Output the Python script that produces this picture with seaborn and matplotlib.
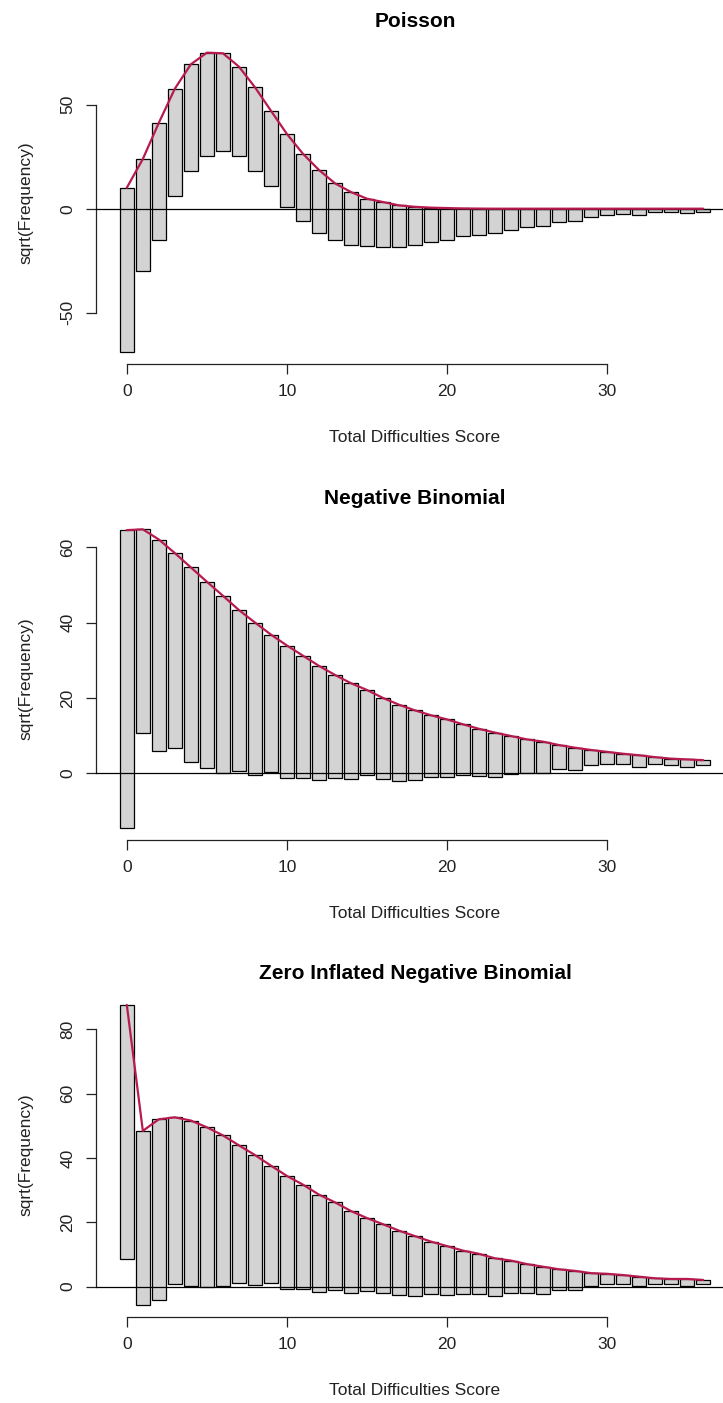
import numpy as np
import pandas as pd
import matplotlib
matplotlib.use("Agg")
import matplotlib.pyplot as plt
import seaborn as sns

# ---- data (square-root scale) ----
scores = list(range(37))
sqrt_observed = [79.0, 54.0, 56.2, 51.7, 51.5, 49.5, 46.9, 42.8, 40.4, 36.4,
                 35.2, 32.4, 30.2, 27.2, 25.5, 22.6, 21.5, 20.1, 18.5, 16.4,
                 15.3, 13.4, 12.6, 11.7, 10.2, 8.9, 8.4, 6.3, 5.8, 4.1,
                 3.2, 2.7, 3.0, 1.7, 1.7, 2.1, 1.4]
sqrt_exp_poisson = [10.1, 23.9, 41.3, 57.7, 69.4, 75.0, 74.7, 68.3, 58.4, 47.1,
                    35.9, 26.4, 18.6, 12.2, 8.0, 4.8, 3.2, 1.6, 0.9, 0.5,
                    0.3, 0.1, 0.05, 0, 0, 0, 0, 0, 0, 0,
                    0, 0, 0, 0, 0, 0, 0]
sqrt_exp_negbin = [64.5, 64.7, 62.0, 58.4, 54.6, 50.8, 47.1, 43.3, 40.0, 36.8,
                   33.9, 31.2, 28.5, 26.1, 23.9, 22.1, 20.0, 18.2, 16.7, 15.4,
                   14.3, 13.0, 11.8, 10.8, 9.9, 9.0, 8.4, 7.5, 6.8, 6.2,
                   5.7, 5.2, 4.8, 4.3, 3.9, 3.7, 3.5]
sqrt_exp_zinb = [87.5, 48.4, 52.0, 52.6, 51.6, 49.5, 47.0, 43.9, 40.9, 37.6,
                 34.4, 31.7, 28.6, 26.2, 23.5, 21.3, 19.4, 17.4, 15.7, 14.0,
                 12.6, 11.2, 10.2, 8.8, 8.1, 7.0, 6.2, 5.4, 4.9, 4.2,
                 4.0, 3.6, 3.1, 2.6, 2.4, 2.4, 2.1]

titles = ["Poisson", "Negative Binomial", "Zero Inflated Negative Binomial"]
expected = [sqrt_exp_poisson, sqrt_exp_negbin, sqrt_exp_zinb]
yticks = [[-50, 0, 50], [0, 20, 40, 60], [0, 20, 40, 60, 80]]
xticks = [0, 10, 20, 30]

sns.set_style("ticks")
plt.rcParams["font.family"] = ["Liberation Sans", "DejaVu Sans"]

W, H = 723, 1403
fig = plt.figure(figsize=(W / 100, H / 100), dpi=100)

# plot regions in pixels (top, bottom)
regions = [(40.7, 364.0), (517.4, 840.0), (993.0, 1316.7)]
left_px, right_px = 96.0, 734.0

bar_w = 0.9
line_col = "#B61A51"
axis_col = "#222222"

for i in range(3):
    top_px, bot_px = regions[i]
    h = bot_px - top_px
    ax = fig.add_axes([left_px / W, 1 - bot_px / H,
                       (right_px - left_px) / W, h / H])
    df = pd.DataFrame({"score": scores,
                       "obs": sqrt_observed,
                       "exp": expected[i]})
    df["bottom"] = df["exp"] - df["obs"]

    ax.bar(df["score"], df["obs"], bottom=df["bottom"], width=bar_w,
           color="#D3D3D3", edgecolor="black", linewidth=0.9, zorder=2)
    ax.axhline(0, color="black", linewidth=0.9, zorder=3)
    sns.lineplot(data=df, x="score", y="exp", ax=ax, color=line_col,
                 linewidth=1.6, zorder=4)

    # R-like limits (4% padding)
    xlo, xhi = -bar_w / 2, 36 + bar_w / 2
    xr = xhi - xlo
    ax.set_xlim(xlo - 0.04 * xr, xhi + 0.04 * xr)
    ylo = min(df["bottom"].min(), 0)
    yhi = df["exp"].max()
    yr = yhi - ylo
    ax.set_ylim(ylo - 0.04 * yr, yhi + 0.04 * yr)

    ax.set_xticks(xticks)
    ax.set_yticks(yticks[i])
    ax.set_xticklabels([str(t) for t in xticks])
    ax.set_yticklabels([str(t) for t in yticks[i]], rotation=90, va="center")

    for s in ["top", "right"]:
        ax.spines[s].set_visible(False)
    ax.spines["left"].set_bounds(yticks[i][0], yticks[i][-1])
    ax.spines["bottom"].set_bounds(xticks[0], xticks[-1])
    for s in ["left", "bottom"]:
        ax.spines[s].set_color(axis_col)
        ax.spines[s].set_linewidth(0.9)

    ax.tick_params(axis="both", which="major", bottom=True, left=True,
                   top=False, right=False, direction="out", length=7.2,
                   width=0.9, color=axis_col, labelsize=12.5,
                   labelcolor=axis_col, pad=7.5)

    ax.set_title(titles[i], fontsize=15, fontweight="bold", pad=10, color="black")
    ax.set_xlabel("Total Difficulties Score", fontsize=12.5, color=axis_col)
    ax.set_ylabel("sqrt(Frequency)", fontsize=12.5, color=axis_col)
    ax.xaxis.set_label_coords(0.5, -(438.0 - bot_px + (bot_px - 364.0) * 0 - 0) / h
                              if False else -74.0 / h)
    ax.xaxis.label.set_va("center")
    ax.yaxis.set_label_coords((26.0 - left_px) / (right_px - left_px), 0.5)
    ax.yaxis.label.set_va("center")
    ax.grid(False)

fig.savefig("out.png", dpi=100)
